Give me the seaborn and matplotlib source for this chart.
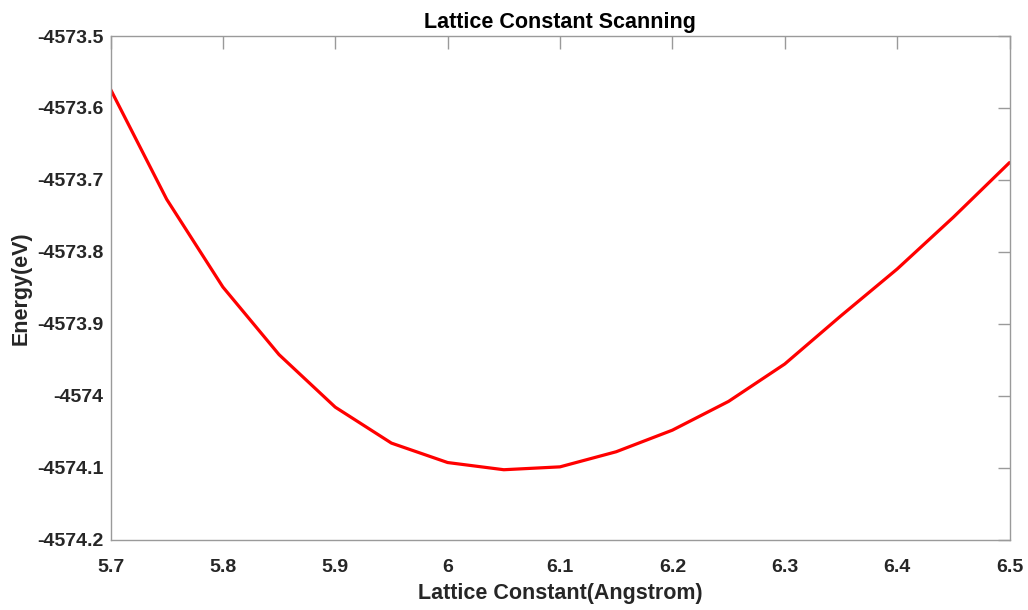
import matplotlib
matplotlib.use("Agg")
import matplotlib.pyplot as plt
import seaborn as sns
import pandas as pd

lattice = [5.70, 5.75, 5.80, 5.85, 5.90, 5.95, 6.00, 6.05, 6.10, 6.15,
           6.20, 6.25, 6.30, 6.35, 6.40, 6.45, 6.50]
energy = [-4573.574, -4573.727, -4573.849, -4573.943, -4574.016, -4574.066,
          -4574.093, -4574.103, -4574.099, -4574.078, -4574.048, -4574.008,
          -4573.956, -4573.889, -4573.824, -4573.752, -4573.676]

x_ticks = [5.7, 5.8, 5.9, 6.0, 6.1, 6.2, 6.3, 6.4, 6.5]
x_tick_labels = ["5.7", "5.8", "5.9", "6", "6.1", "6.2", "6.3", "6.4", "6.5"]
y_ticks = [-4574.2, -4574.1, -4574.0, -4573.9, -4573.8, -4573.7, -4573.6, -4573.5]
y_tick_labels = ["-4574.2", "-4574.1", "-4574", "-4573.9", "-4573.8",
                 "-4573.7", "-4573.6", "-4573.5"]

title = "Lattice Constant Scanning"
x_label = "Lattice Constant(Angstrom)"
y_label = "Energy(eV)"

sns.set_style("white")
plt.rcParams["font.family"] = ["Liberation Sans", "DejaVu Sans"]
plt.rcParams["font.weight"] = "bold"

df = pd.DataFrame({"x": lattice, "y": energy})

fig = plt.figure(figsize=(10.28, 6.10), dpi=100)
ax = fig.add_axes([110.5 / 1028, 1 - 539.5 / 610, (1009.5 - 110.5) / 1028, (539.5 - 36) / 610])
sns.lineplot(data=df, x="x", y="y", ax=ax, color="#ff0000", linewidth=2.3, sort=False)

ax.set_xlim(5.7, 6.5)
ax.set_ylim(-4574.2, -4573.5)
ax.set_xticks(x_ticks)
ax.set_xticklabels(x_tick_labels)
ax.set_yticks(y_ticks)
ax.set_yticklabels(y_tick_labels)

text_color = "#262626"
ax.tick_params(direction="in", length=9, width=1, color="#9a9a9a",
               labelsize=14, labelcolor=text_color, top=True, right=True)
ax.tick_params(axis="x", pad=14)
ax.tick_params(axis="y", pad=5)
for lab in ax.get_xticklabels() + ax.get_yticklabels():
    lab.set_fontweight("bold")
for s in ax.spines.values():
    s.set_visible(True)
    s.set_color("#9a9a9a")
    s.set_linewidth(1)

ax.set_title(title, fontsize=15.5, fontweight="bold", color="#000000", pad=6)
ax.set_xlabel(x_label, fontsize=15.5, fontweight="bold", color=text_color, labelpad=5)
ax.set_ylabel(y_label, fontsize=15.5, fontweight="bold", color=text_color, labelpad=4)

fig.savefig("out.png", dpi=100, facecolor="white")
